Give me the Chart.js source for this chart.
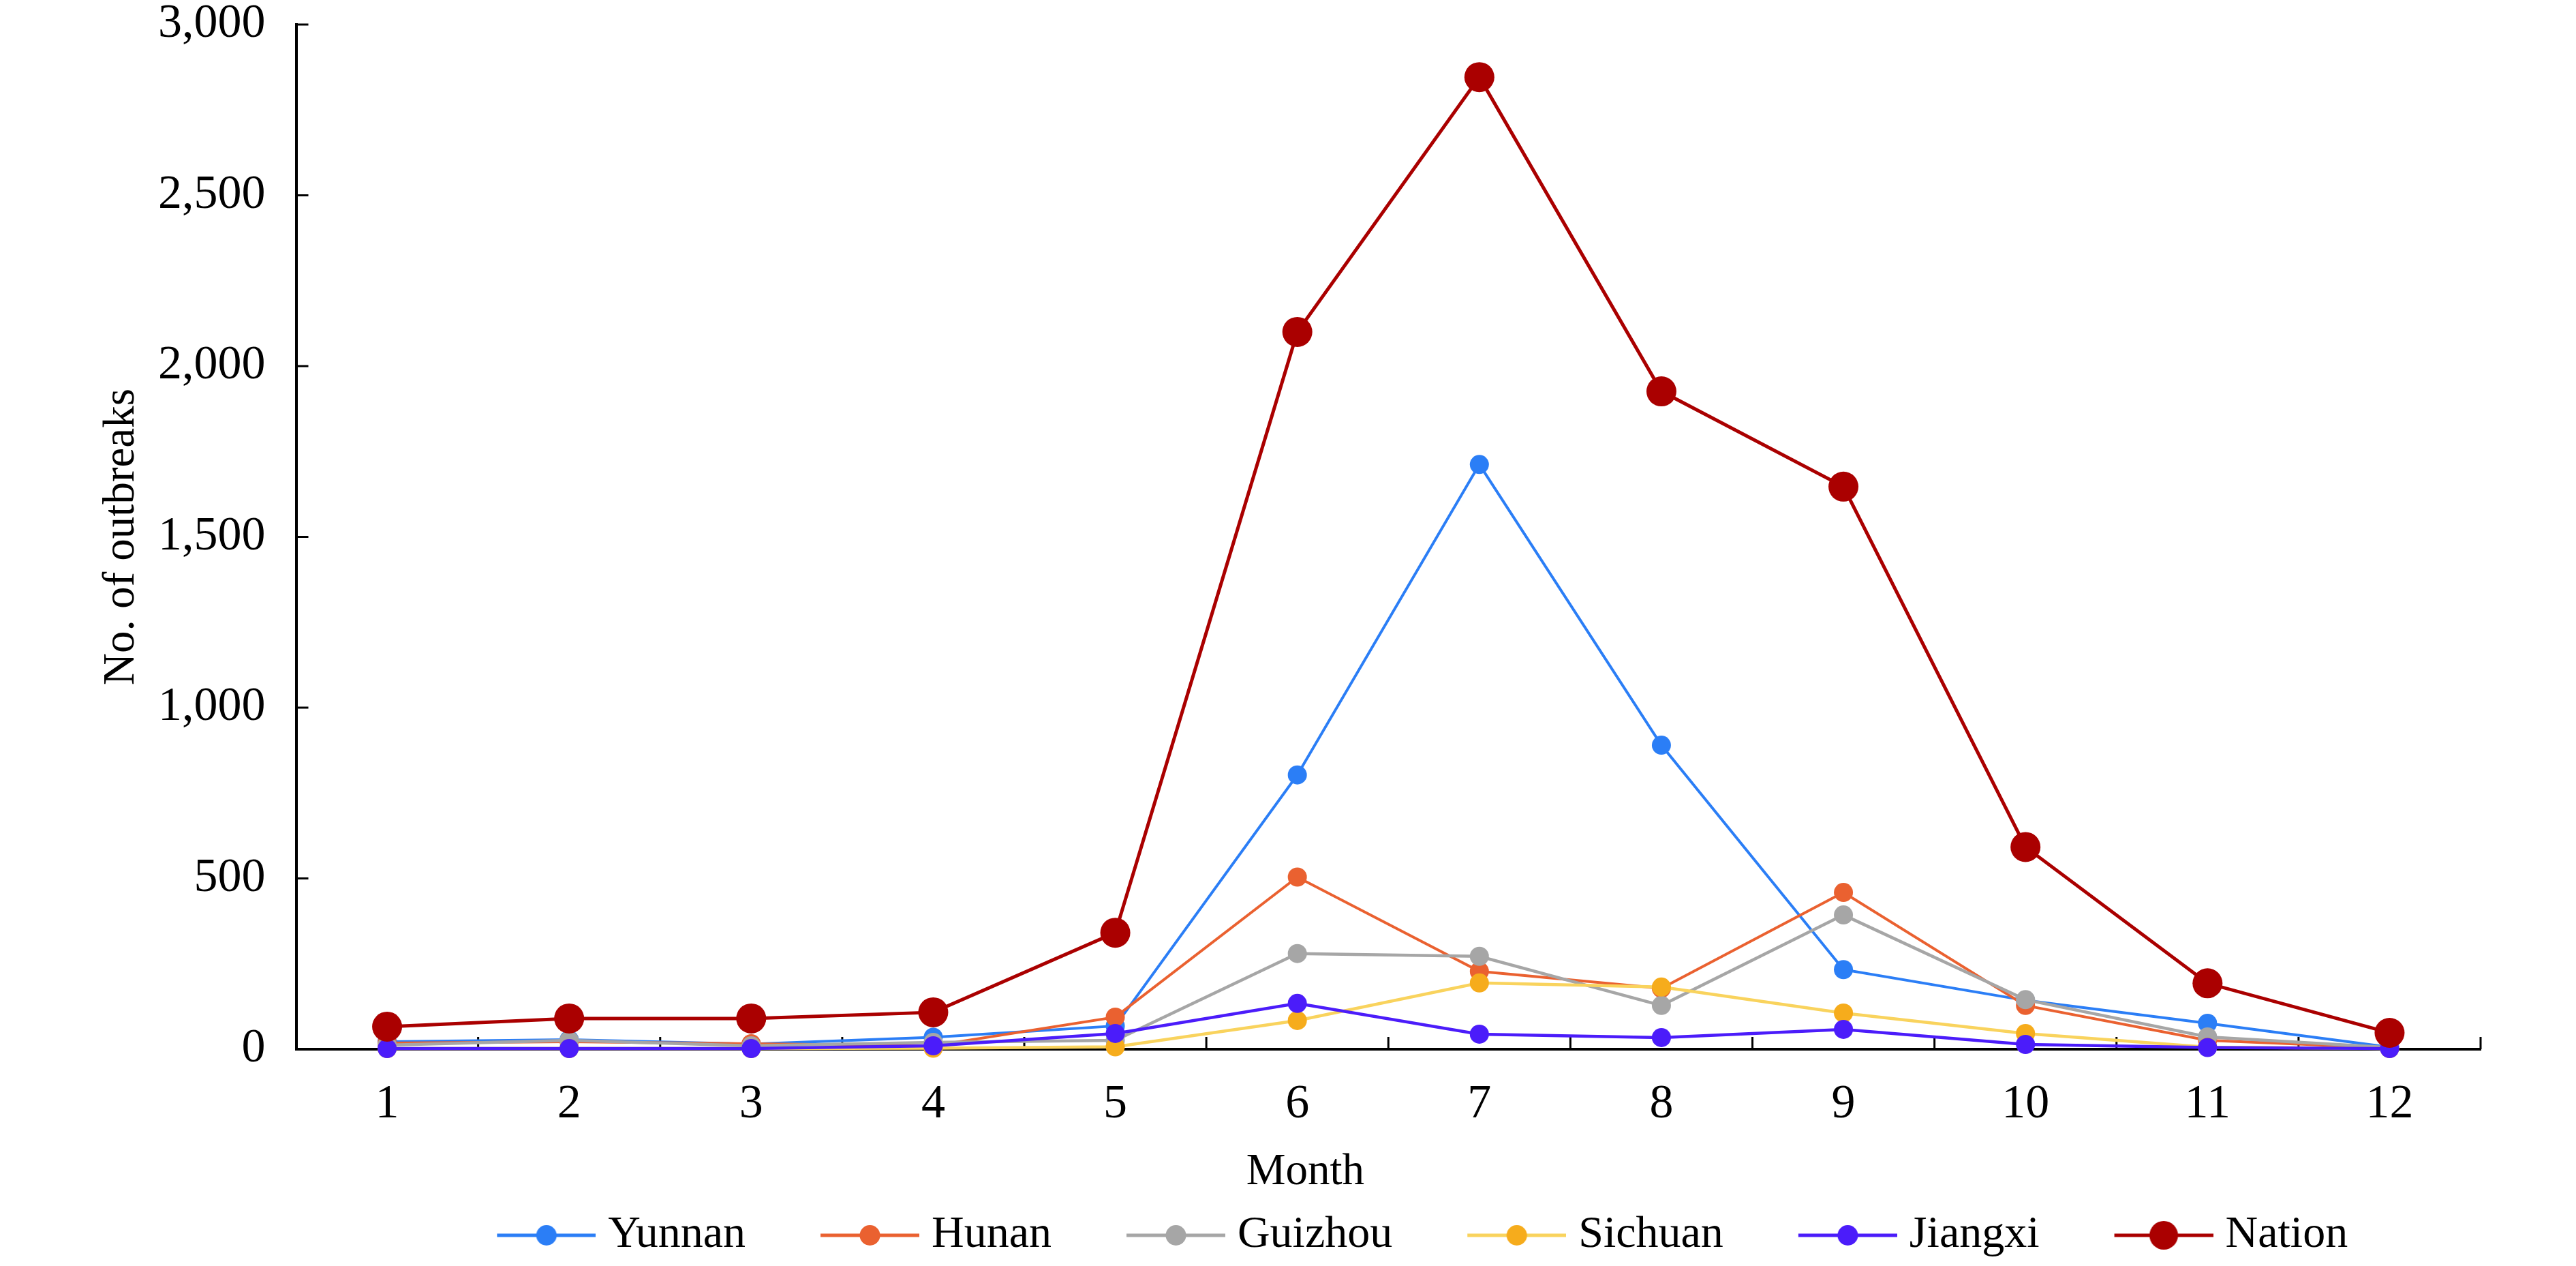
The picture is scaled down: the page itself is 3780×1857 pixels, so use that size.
<!DOCTYPE html>
<html>
<head>
<meta charset="utf-8">
<script src="https://cdn.jsdelivr.net/npm/chart.js@4"></script>
<style>
  body { margin: 0; background: #fff; overflow: hidden; }
  canvas { display: block; margin-top: -51px; }
</style>
</head>
<body>
<canvas id="outbreakChart" width="3780" height="1908"></canvas>
<script>
// months and monthly outbreak counts
const months = ['1', '2', '3', '4', '5', '6', '7', '8', '9', '10', '11', '12'];
const yTicks = [0, 500, 1000, 1500, 2000, 2500, 3000];

const yunnan  = [22, 28, 15, 35, 68, 803, 1712, 890, 233, 143, 76, 6];
const hunan   = [18, 22, 16, 10, 94, 504, 228, 178, 459, 128, 26, 4];
const guizhou = [12, 26, 10, 20, 26, 280, 272, 128, 393, 145, 36, 5];
const sichuan = [2, 2, 2, 3, 7, 84, 194, 182, 106, 46, 6, 2];
const jiangxi = [2, 2, 2, 10, 46, 134, 44, 34, 58, 14, 5, 2];
const nation  = [66, 90, 90, 108, 341, 2100, 2846, 1926, 1647, 592, 193, 48];

Chart.defaults.font.family = "'Liberation Serif', 'Times New Roman', serif";
Chart.defaults.font.size = 65;
Chart.defaults.color = '#000';

function series(label, data, line, point, width, radius, order) {
    return {
        label: label,
        data: data,
        borderColor: line,
        backgroundColor: point,
        pointBackgroundColor: point,
        pointBorderWidth: 0,
        borderWidth: width,
        pointRadius: radius,
        pointHoverRadius: radius,
        tension: 0,
        clip: false,
        order: order
    };
}

const datasets = [
    series('Yunnan', yunnan, '#2b7ef6', '#2b7ef6', 4, 14, 6),
    series('Hunan', hunan, '#ea6130', '#ea6130', 4, 14, 5),
    series('Guizhou', guizhou, '#a6a6a6', '#a6a6a6', 4.5, 14, 4),
    series('Sichuan', sichuan, '#f9d35d', '#f6ac1c', 4.5, 14, 3),
    series('Jiangxi', jiangxi, '#4b1cfa', '#4b1cfa', 4.5, 14, 2),
    series('Nation', nation, '#aa0000', '#aa0000', 5, 22, 1)
];

// legend icon: short line with a dot in the middle, with blank room on the left
const LEAD = 100, LINE_LEN = 145, BOX_W = 230;
const ICON_W = 2 * (LEAD + LINE_LEN - BOX_W / 2);
function legendIcon(ds) {
    const c = document.createElement('canvas');
    c.width = ICON_W;
    c.height = 48;
    const g = c.getContext('2d');
    const x0 = ICON_W - LINE_LEN;
    g.strokeStyle = ds.borderColor;
    g.lineWidth = 5;
    g.beginPath();
    g.moveTo(x0, 24);
    g.lineTo(ICON_W, 24);
    g.stroke();
    g.fillStyle = ds.pointBackgroundColor;
    g.beginPath();
    g.arc(x0 + LINE_LEN / 2, 24, ds.pointRadius > 20 ? 21 : 15, 0, Math.PI * 2);
    g.fill();
    return c;
}
const icons = datasets.map(legendIcon);

const innerTicks = {
    id: 'innerTicks',
    beforeDatasetsDraw(chart) {
        const {ctx, chartArea, scales: {x, y}} = chart;
        const half = (x.getPixelForValue(1) - x.getPixelForValue(0)) / 2;
        ctx.save();
        ctx.strokeStyle = '#000';
        ctx.lineWidth = 3;
        ctx.beginPath();
        y.ticks.forEach(t => {
            const py = y.getPixelForValue(t.value);
            ctx.moveTo(chartArea.left, py);
            ctx.lineTo(chartArea.left + 18, py);
        });
        for (let i = 1; i <= months.length; i++) {
            const px = x.getPixelForValue(0) - half + i * 2 * half;
            ctx.moveTo(px, chartArea.bottom);
            ctx.lineTo(px, chartArea.bottom - 18);
        }
        ctx.stroke();
        ctx.restore();
    }
};

new Chart(document.getElementById('outbreakChart').getContext('2d'), {
    type: 'line',
    data: { labels: months, datasets: datasets },
    options: {
        responsive: false,
        animation: false,
        devicePixelRatio: 1,
        layout: { padding: { left: 105, right: 140, top: 0, bottom: 2 } },
        scales: {
            x: {
                offset: true,
                grid: { display: false, drawTicks: false },
                border: { display: true, color: '#000', width: 4 },
                ticks: { padding: 40, font: { size: 70 } },
                title: {
                    display: true,
                    text: 'Month\u00a0\u00a0\u00a0\u00a0\u00a0\u00a0\u00a0\u00a0\u00a0\u00a0\u00a0\u00a0\u00a0\u00a0\u00a0',
                    padding: { top: -22, bottom: 10 }
                }
            },
            y: {
                min: 0,
                max: 3000,
                afterBuildTicks(axis) {
                    axis.ticks = yTicks.map(v => ({ value: v }));
                },
                grid: { display: false, drawTicks: false },
                border: { display: true, color: '#000', width: 4 },
                ticks: {
                    padding: 45,
                    font: { size: 70 },
                    callback: v => v.toLocaleString('en-US')
                },
                title: {
                    display: true,
                    text: 'No. of outbreaks',
                    padding: { top: 35, bottom: -31 }
                }
            }
        },
        plugins: {
            tooltip: { enabled: false },
            legend: {
                position: 'bottom',
                fullSize: false,
                labels: {
                    usePointStyle: true,
                    pointStyleWidth: BOX_W,
                    padding: 10,
                    font: { size: 66 },
                    sort: (a, b) => a.datasetIndex - b.datasetIndex,
                    generateLabels(chart) {
                        const items = Chart.defaults.plugins.legend.labels.generateLabels(chart);
                        items.forEach(it => { it.pointStyle = icons[it.datasetIndex]; });
                        return items;
                    }
                }
            }
        }
    },
    plugins: [innerTicks]
});
</script>
</body>
</html>
